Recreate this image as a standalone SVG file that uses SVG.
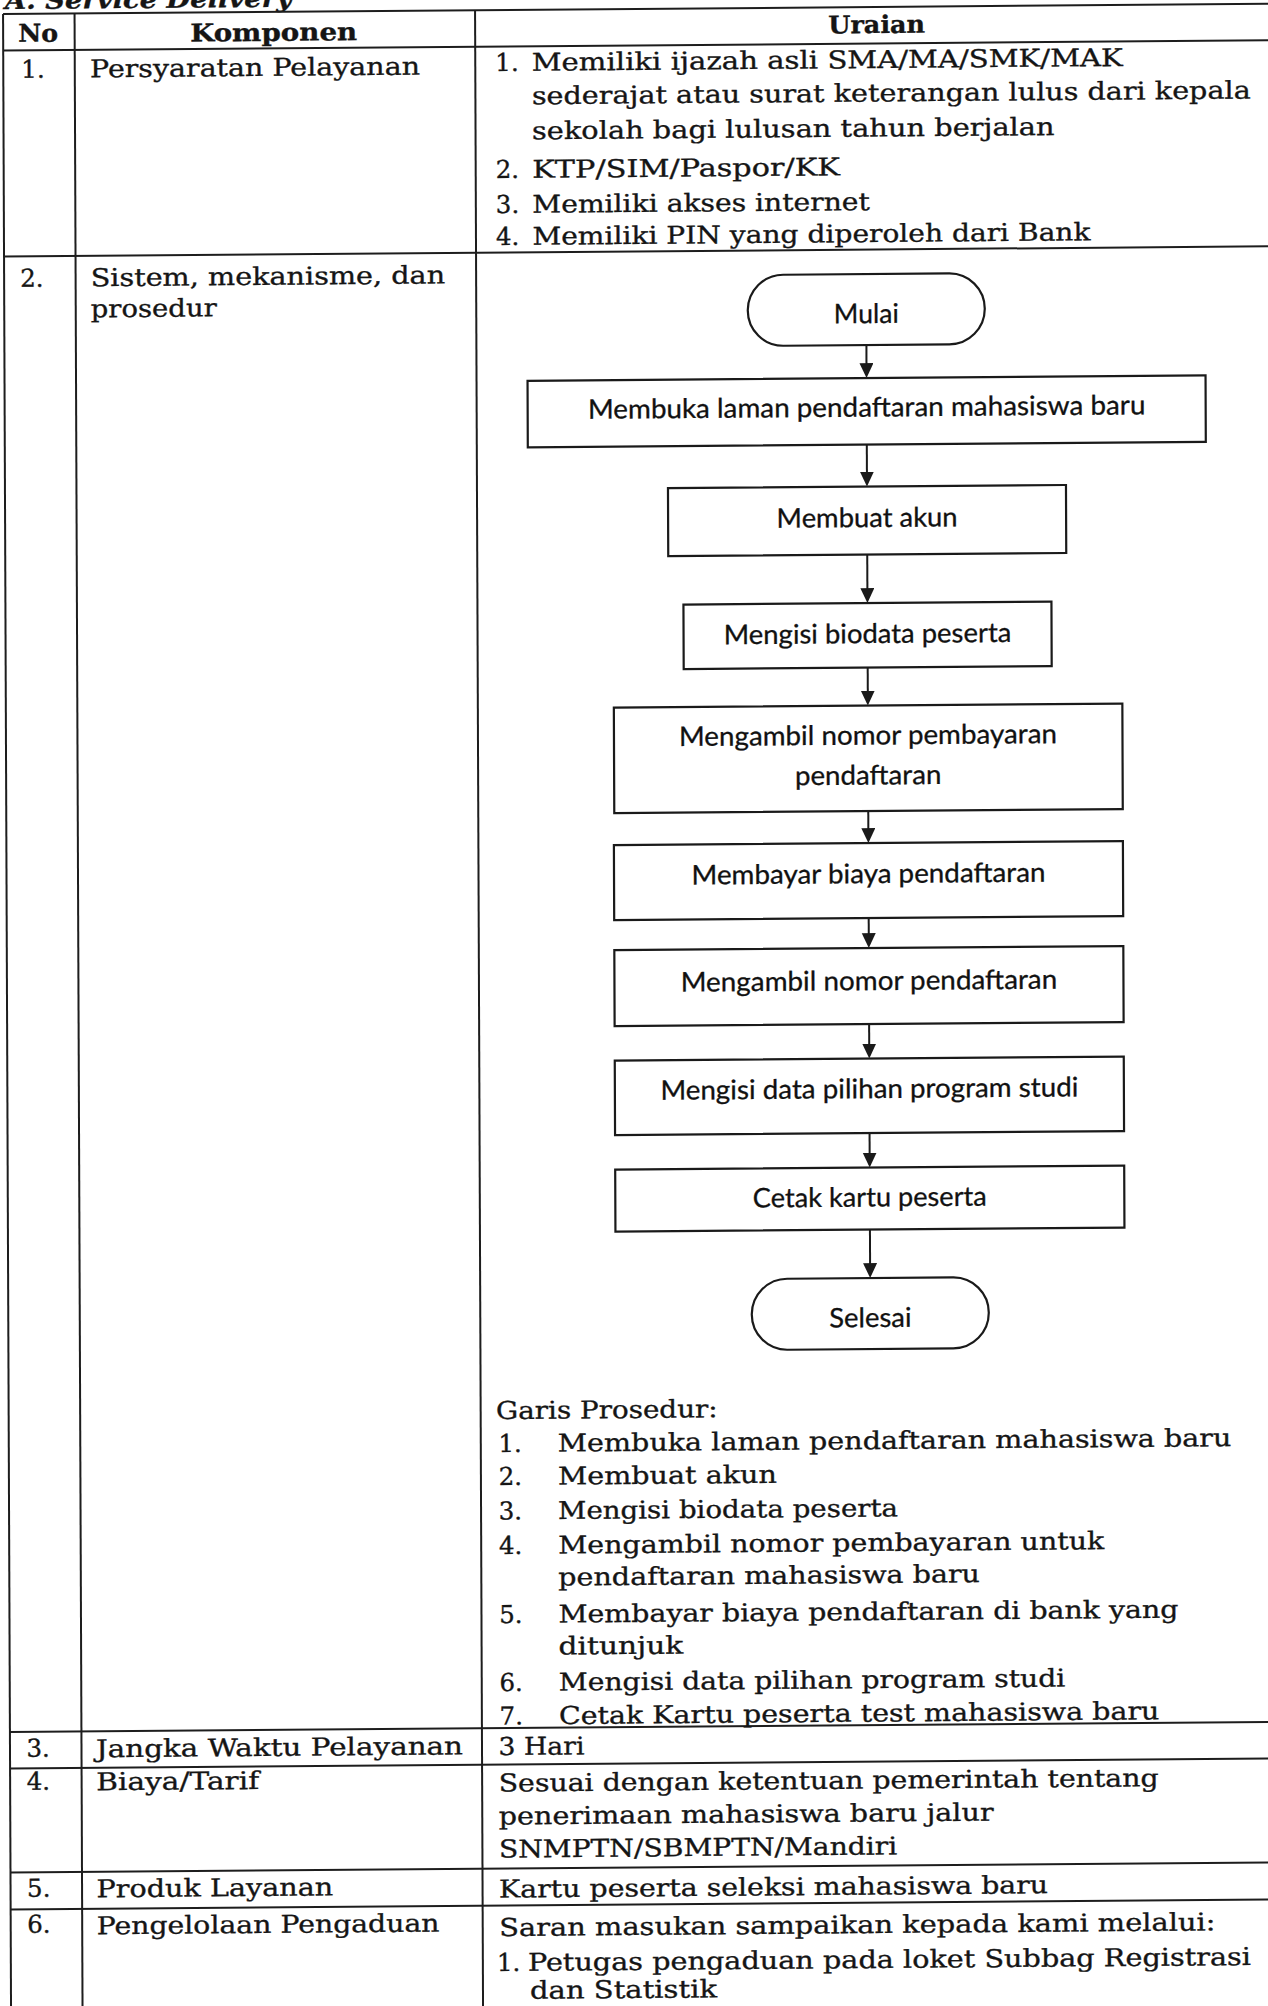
<svg xmlns="http://www.w3.org/2000/svg" width="1268" height="2006" viewBox="0 0 1268 2006">
  <style>
    .grid { stroke: #1d1d1d; stroke-width: 2; fill: none; }
    .s { font-family: "DejaVu Serif", "Liberation Serif", serif; font-size: 24.5px; fill: #151515; stroke: #151515; stroke-width: 0.35px; }
    .b { font-weight: bold; }
    .bi { font-weight: bold; font-style: italic; }
    .box { fill: #ffffff; stroke: #1a1a1a; stroke-width: 2.2; }
    .f { font-family: Lato, "Liberation Sans", sans-serif; font-size: 27px; fill: #111111; stroke: #111111; stroke-width: 0.3px; text-anchor: middle; }
    .conn { stroke: #1a1a1a; stroke-width: 2; fill: none; marker-end: url(#ah); }
  </style>
  <defs>
    <marker id="ah" markerUnits="userSpaceOnUse" markerWidth="16" markerHeight="15" refX="12" refY="7" orient="auto">
      <path d="M0,0 L15,7 L0,14 z" fill="#1a1a1a"/>
    </marker>
  </defs>
  <rect width="1268" height="2006" fill="#ffffff"/>

  <!-- the whole page sits slightly skewed on the sheet -->
  <g transform="matrix(1,-0.008,0.004,1,0,0)">

    <g id="title">
      <text class="s bi" x="5" y="9" textLength="287" lengthAdjust="spacingAndGlyphs">A. Service Delivery</text>
    </g>

    <!-- table rules -->
    <g id="table-grid" class="grid">
      <line x1="3" y1="14" x2="1300" y2="14"/>
      <line x1="3" y1="50.5" x2="1300" y2="50.5"/>
      <line x1="3" y1="256.5" x2="1300" y2="256.5"/>
      <line x1="3" y1="1732" x2="1300" y2="1732"/>
      <line x1="3" y1="1768.5" x2="1300" y2="1768.5"/>
      <line x1="3" y1="1872.5" x2="1300" y2="1872.5"/>
      <line x1="3" y1="1909.5" x2="1300" y2="1909.5"/>
      <line x1="3" y1="14" x2="3" y2="2040"/>
      <line x1="74.5" y1="14" x2="74.5" y2="2040"/>
      <line x1="475" y1="14" x2="475" y2="2040"/>
    </g>

    <g id="header">
      <text class="s b" x="18" y="42" textLength="40" lengthAdjust="spacingAndGlyphs">No</text>
      <text class="s b" x="190" y="43" textLength="167" lengthAdjust="spacingAndGlyphs">Komponen</text>
      <text class="s b" x="828" y="40" textLength="97" lengthAdjust="spacingAndGlyphs">Uraian</text>
    </g>

    <g id="row-1">
      <text class="s" x="21" y="78">1.</text>
      <text class="s" x="89.7" y="78" textLength="330" lengthAdjust="spacingAndGlyphs">Persyaratan Pelayanan</text>
      <text class="s" x="495" y="75">1.</text>
      <text class="s" x="531.5" y="75" textLength="591" lengthAdjust="spacingAndGlyphs">Memiliki ijazah asli SMA/MA/SMK/MAK</text>
      <text class="s" x="531.5" y="108.5" textLength="718.8" lengthAdjust="spacingAndGlyphs">sederajat atau surat keterangan lulus dari kepala</text>
      <text class="s" x="531.5" y="143.5" textLength="522.5" lengthAdjust="spacingAndGlyphs">sekolah bagi lulusan tahun berjalan</text>
      <text class="s" x="495" y="182">2.</text>
      <text class="s" x="531.5" y="182" textLength="307.8" lengthAdjust="spacingAndGlyphs">KTP/SIM/Paspor/KK</text>
      <text class="s" x="495" y="217">3.</text>
      <text class="s" x="531.5" y="217" textLength="337.5" lengthAdjust="spacingAndGlyphs">Memiliki akses internet</text>
      <text class="s" x="495" y="249">4.</text>
      <text class="s" x="531.5" y="249" textLength="558" lengthAdjust="spacingAndGlyphs">Memiliki PIN yang diperoleh dari Bank</text>
    </g>

    <g id="row-2">
      <text class="s" x="19" y="287">2.</text>
      <text class="s" x="89.5" y="287" textLength="354.5" lengthAdjust="spacingAndGlyphs">Sistem, mekanisme, dan</text>
      <text class="s" x="89.5" y="318" textLength="126" lengthAdjust="spacingAndGlyphs">prosedur</text>

      <!-- flowchart -->
      <g id="connectors">
        <line class="conn" x1="865" y1="352" x2="865" y2="382"/>
        <line class="conn" x1="865" y1="451.5" x2="865" y2="490.5"/>
        <line class="conn" x1="865" y1="561.5" x2="865" y2="607"/>
        <line class="conn" x1="865" y1="674.5" x2="865" y2="709.5"/>
        <line class="conn" x1="865" y1="818" x2="865" y2="847"/>
        <line class="conn" x1="865" y1="925" x2="865" y2="952"/>
        <line class="conn" x1="865" y1="1031" x2="865" y2="1062.5"/>
        <line class="conn" x1="865" y1="1140" x2="865" y2="1171.5"/>
        <line class="conn" x1="865" y1="1236.5" x2="865" y2="1282"/>
      </g>

      <g id="node-mulai">
        <rect class="box" x="746.5" y="281" width="237" height="71" rx="35.5" ry="35.5"/>
        <text class="f" x="865" y="330" textLength="65" lengthAdjust="spacingAndGlyphs">Mulai</text>
      </g>
      <g id="node-buka-laman">
        <rect class="box" x="526" y="385" width="678" height="66.5"/>
        <text class="f" x="865" y="423.5" textLength="557.5" lengthAdjust="spacingAndGlyphs">Membuka laman pendaftaran mahasiswa baru</text>
      </g>
      <g id="node-buat-akun">
        <rect class="box" x="666" y="493.5" width="398" height="68"/>
        <text class="f" x="865" y="534" textLength="181" lengthAdjust="spacingAndGlyphs">Membuat akun</text>
      </g>
      <g id="node-biodata">
        <rect class="box" x="681" y="610" width="368" height="64.5"/>
        <text class="f" x="865" y="650" textLength="287.6" lengthAdjust="spacingAndGlyphs">Mengisi biodata peserta</text>
      </g>
      <g id="node-nomor-bayar">
        <rect class="box" x="611" y="712.5" width="508.5" height="105.5"/>
        <text class="f" x="865" y="751.5" textLength="378" lengthAdjust="spacingAndGlyphs">Mengambil nomor pembayaran</text>
        <text class="f" x="865" y="791.5" textLength="146.5" lengthAdjust="spacingAndGlyphs">pendaftaran</text>
      </g>
      <g id="node-bayar">
        <rect class="box" x="610.5" y="850" width="509" height="75"/>
        <text class="f" x="865" y="890" textLength="354" lengthAdjust="spacingAndGlyphs">Membayar biaya pendaftaran</text>
      </g>
      <g id="node-nomor-daftar">
        <rect class="box" x="610.5" y="955" width="509" height="76"/>
        <text class="f" x="865" y="997" textLength="376.5" lengthAdjust="spacingAndGlyphs">Mengambil nomor pendaftaran</text>
      </g>
      <g id="node-prodi">
        <rect class="box" x="610.5" y="1065.5" width="509" height="74.5"/>
        <text class="f" x="865" y="1105" textLength="418" lengthAdjust="spacingAndGlyphs">Mengisi data pilihan program studi</text>
      </g>
      <g id="node-cetak">
        <rect class="box" x="610.5" y="1174.5" width="509" height="62"/>
        <text class="f" x="865" y="1213.5" textLength="234" lengthAdjust="spacingAndGlyphs">Cetak kartu peserta</text>
      </g>
      <g id="node-selesai">
        <rect class="box" x="746.5" y="1285" width="237" height="71" rx="35.5" ry="35.5"/>
        <text class="f" x="865" y="1334" textLength="82.4" lengthAdjust="spacingAndGlyphs">Selesai</text>
      </g>

      <g id="garis-prosedur">
        <text class="s" x="490.3" y="1423" textLength="221.7" lengthAdjust="spacingAndGlyphs">Garis Prosedur:</text>
        <text class="s" x="492.7" y="1456">1.</text>
        <text class="s" x="552" y="1456" textLength="673.6" lengthAdjust="spacingAndGlyphs">Membuka laman pendaftaran mahasiswa baru</text>
        <text class="s" x="492.7" y="1489">2.</text>
        <text class="s" x="552" y="1489" textLength="219" lengthAdjust="spacingAndGlyphs">Membuat akun</text>
        <text class="s" x="492.7" y="1523.5">3.</text>
        <text class="s" x="552" y="1523.5" textLength="340" lengthAdjust="spacingAndGlyphs">Mengisi biodata peserta</text>
        <text class="s" x="492.7" y="1558">4.</text>
        <text class="s" x="552" y="1558" textLength="546" lengthAdjust="spacingAndGlyphs">Mengambil nomor pembayaran untuk</text>
        <text class="s" x="552" y="1590" textLength="421.6" lengthAdjust="spacingAndGlyphs">pendaftaran mahasiswa baru</text>
        <text class="s" x="492.7" y="1627">5.</text>
        <text class="s" x="552" y="1627" textLength="620" lengthAdjust="spacingAndGlyphs">Membayar biaya pendaftaran di bank yang</text>
        <text class="s" x="552" y="1659" textLength="124.7" lengthAdjust="spacingAndGlyphs">ditunjuk</text>
        <text class="s" x="492.7" y="1695">6.</text>
        <text class="s" x="552" y="1695" textLength="506.6" lengthAdjust="spacingAndGlyphs">Mengisi data pilihan program studi</text>
        <text class="s" x="492.7" y="1728.5">7.</text>
        <text class="s" x="552" y="1728.5" textLength="600.5" lengthAdjust="spacingAndGlyphs">Cetak Kartu peserta test mahasiswa baru</text>
      </g>
    </g>

    <g id="row-3">
      <text class="s" x="19.5" y="1757">3.</text>
      <text class="s" x="89" y="1758" textLength="367" lengthAdjust="spacingAndGlyphs">Jangka Waktu Pelayanan</text>
      <text class="s" x="491.5" y="1759" textLength="86" lengthAdjust="spacingAndGlyphs">3 Hari</text>
    </g>

    <g id="row-4">
      <text class="s" x="19.5" y="1790">4.</text>
      <text class="s" x="89" y="1791" textLength="163" lengthAdjust="spacingAndGlyphs">Biaya/Tarif</text>
      <text class="s" x="491.5" y="1795.5" textLength="660" lengthAdjust="spacingAndGlyphs">Sesuai dengan ketentuan pemerintah tentang</text>
      <text class="s" x="491.5" y="1828.5" textLength="494.8" lengthAdjust="spacingAndGlyphs">penerimaan mahasiswa baru jalur</text>
      <text class="s" x="491.5" y="1861.5" textLength="398.3" lengthAdjust="spacingAndGlyphs">SNMPTN/SBMPTN/Mandiri</text>
    </g>

    <g id="row-5">
      <text class="s" x="19.5" y="1897">5.</text>
      <text class="s" x="89" y="1898" textLength="236.7" lengthAdjust="spacingAndGlyphs">Produk Layanan</text>
      <text class="s" x="491.5" y="1901.5" textLength="549" lengthAdjust="spacingAndGlyphs">Kartu peserta seleksi mahasiswa baru</text>
    </g>

    <g id="row-6">
      <text class="s" x="19.5" y="1933">6.</text>
      <text class="s" x="89" y="1935" textLength="342.8" lengthAdjust="spacingAndGlyphs">Pengelolaan Pengaduan</text>
      <text class="s" x="491.5" y="1940" textLength="716.3" lengthAdjust="spacingAndGlyphs">Saran masukan sampaikan kepada kami melalui:</text>
      <text class="s" x="489" y="1975">1.</text>
      <text class="s" x="520" y="1975" textLength="723" lengthAdjust="spacingAndGlyphs">Petugas pengaduan pada loket Subbag Registrasi</text>
      <text class="s" x="522" y="2003" textLength="187" lengthAdjust="spacingAndGlyphs">dan Statistik</text>
    </g>
  </g>
</svg>
